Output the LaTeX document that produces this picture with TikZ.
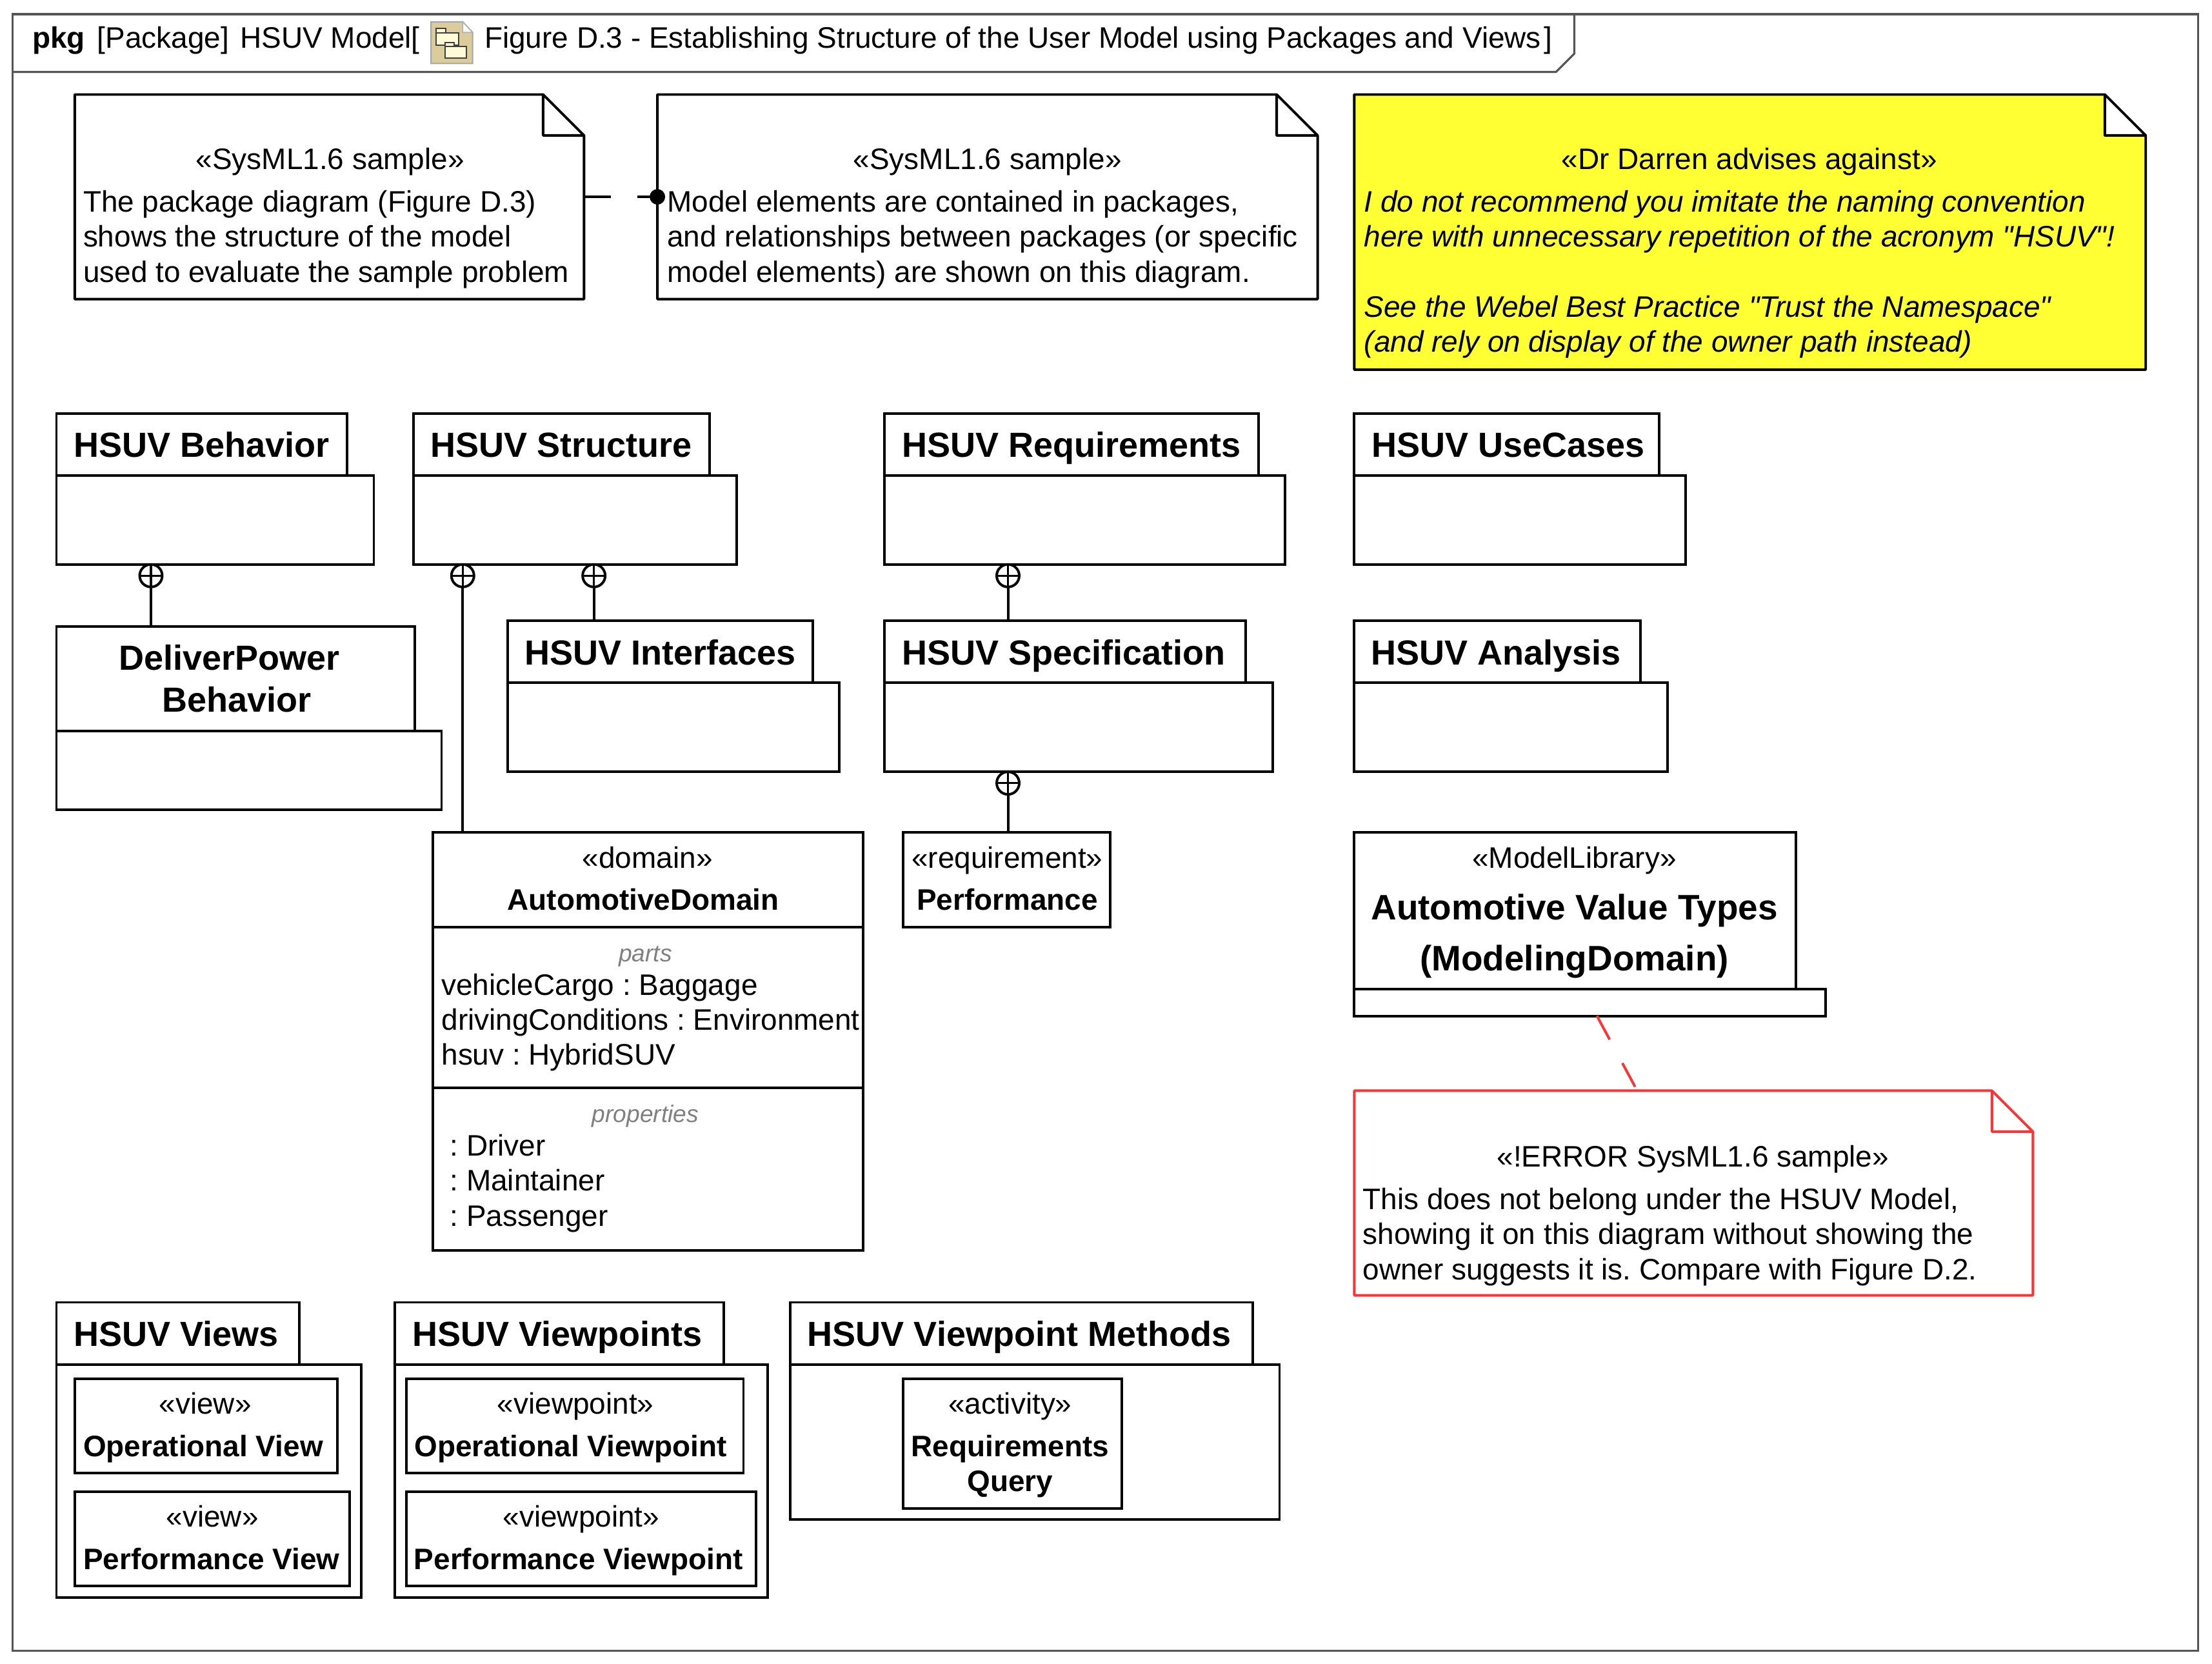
\documentclass[tikz,border=0pt]{standalone}
\usepackage{fontspec}
\setmainfont[Ligatures=TeXOff]{Liberation Sans}
\newcommand\fa{\fontsize{21}{24.85}\selectfont\frenchspacing}
\newcommand\fb{\fontsize{24.7}{30}\selectfont\bfseries}
\newcommand\tabstrut{\rule[-8pt]{0pt}{34pt}}
\definecolor{framegray}{HTML}{555555}
\definecolor{notered}{HTML}{FF3333}
\definecolor{noteyellow}{HTML}{FFFF33}
\definecolor{icontan}{RGB}{220,203,155}
\definecolor{iconcream}{RGB}{255,251,215}
\tikzset{
  boxn/.style={draw=black,line width=1.8pt,fill=white,anchor=north west,inner sep=0pt,outer sep=0pt,align=center,font=\fb},
  txtn/.style={inner sep=0pt,outer sep=0pt,font=\fa},
  cen/.style={txtn,anchor=north,align=center},
  lef/.style={txtn,anchor=north west,align=left},
  dep/.style={line width=1.8pt,dash pattern=on 19pt off 19pt},
  conn/.style={line width=1.8pt},
  nest/.style={circle,draw=black,line width=1.8pt,fill=white,minimum size=16pt,inner sep=0pt,outer sep=0pt,
    path picture={\draw[line width=1.5pt] (path picture bounding box.north)--(path picture bounding box.south)
      (path picture bounding box.west)--(path picture bounding box.east);}},
  note/.style={draw=none,anchor=north west,inner sep=0pt,outer sep=0pt}
}
% box: [options]{name}{x1}{y1}{x2}{y2}{text}
\newcommand\bx[7][]{\pgfmathsetmacro\bw{#5-#3}\pgfmathsetmacro\bh{#6-#4}%
  \node[boxn,#1,minimum width=\bw pt,minimum height=\bh pt] (#2) at (#3,#4) {#7};}
% note: [colours]{name}{x1}{y1}{x2}{y2}{fold x}{fold y}
\newcommand\nt[8][]{\pgfmathsetmacro\bw{#5-#3}\pgfmathsetmacro\bh{#6-#4}%
  \draw[line width=1.8pt,fill=white,line join=round,#1] (#3,#4)--(#7,#4)--(#5,#8)--(#5,#6)--(#3,#6)--cycle (#7,#4)--(#7,#8)--(#5,#8);
  \node[note,minimum width=\bw pt,minimum height=\bh pt] (#2) at (#3,#4) {};}
% package: {name}{x1}{y1}{tab x2}{tab y2}{body x2}{body y2}{label}
\newcommand\pk[8]{\bx{#1b}{#2}{#5}{#6}{#7}{}\bx{#1}{#2}{#3}{#4}{#5}{#8}}
\begin{document}
\begin{tikzpicture}[x=1pt,y=-1pt]
\useasboundingbox[fill=white] (0,0) rectangle (1568,1179.3);
% frame
\draw[framegray,line width=1.5pt] (9,10) rectangle (1558,1170);
\draw[framegray,line width=1.5pt] (9,51)--(1103,51)--(1116,38)--(1116,10);
\node[txtn,anchor=base west] (ttl1) at (23,34) {\bfseries pkg};
\node[txtn,anchor=base west] (ttl2) at (69,34) {[Package]\hspace{8pt}HSUV Model[};
\node[txtn,anchor=base west] (ttl3) at (343.5,34) {Figure D.3 - Establishing Structure of the User Model using Packages and Views\hspace{2pt}]};
% icon
\draw[draw=gray!70,line width=1pt,fill=icontan] (305.5,15.5)--(328,15.5)--(335,23)--(335,45)--(305.5,45)--cycle;
\draw[fill=white,draw=gray!60,line width=.8pt] (328,15.5)--(328,23)--(335,23)--cycle;
\draw[fill=iconcream,draw=black!75,line width=1pt] (309,23.5) rectangle (325,32) (309,20) rectangle (316,23.5);
\draw[fill=iconcream,draw=black!75,line width=1pt] (315.5,33) rectangle (330.5,41) (315.5,30) rectangle (322,33);
% notes
\nt{note1}{53}{67}{414}{212}{385}{96}
\nt{note2}{466}{67}{934}{212}{905}{96}
\nt[fill=noteyellow]{note3}{960}{67}{1521}{262}{1492}{96}
\nt[draw=notered]{note4}{960}{773}{1441}{918}{1412}{802}
\node[cen] (n1s) at (234,102.8) {\strut«SysML1.6 sample»};
\node[lef] (n1t) at (59,132.8) {\strut The package diagram (Figure D.3)\\shows the structure of the model\\used to evaluate the sample problem};
\node[cen] (n2s) at (700,102.8) {\strut«SysML1.6 sample»};
\node[lef] (n2t) at (473,132.8) {\strut Model elements are contained in packages,\\and relationships between packages (or specific\\model elements) are shown on this diagram.};
\node[cen] (n3s) at (1240,102.8) {\strut«Dr Darren advises against»};
\node[lef,font=\fa\itshape] (n3t) at (967,132.8) {\strut I do not recommend you imitate the naming convention\\here with unnecessary repetition of the acronym "HSUV"!\\\mbox{}\\See the Webel Best Practice "Trust the Namespace"\\(and rely on display of the owner path instead)};
\node[cen] (n4s) at (1200,809.8) {\strut«!ERROR SysML1.6 sample»};
\node[lef] (n4t) at (966,839.8) {\strut This does not belong under the HSUV Model,\\showing it on this diagram without showing the\\owner suggests it is. Compare with Figure D.2.};
% packages
\pk{behav}{40}{293}{246}{337}{265}{400}{\tabstrut HSUV Behavior}
\pk{struc}{293}{293}{503}{337}{522}{400}{\tabstrut HSUV Structure}
\pk{reqs}{627}{293}{892}{337}{911}{400}{\tabstrut HSUV Requirements}
\pk{ucs}{960}{293}{1176}{337}{1195}{400}{\tabstrut\hspace*{2pt}HSUV UseCases}
\pk{deliv}{40}{444}{294}{518}{313}{574}{DeliverPower\hspace*{9pt}\\\hspace*{2pt}Behavior}
\pk{intf}{360}{440}{576}{484}{595}{547}{\tabstrut HSUV Interfaces}
\pk{spec}{627}{440}{883}{484}{902}{547}{\tabstrut HSUV Specification\hspace*{2pt}}
\pk{anal}{960}{440}{1163}{484}{1182}{547}{\tabstrut HSUV Analysis\hspace*{2pt}}
\pk{mlib}{960}{590}{1273}{701}{1294}{720}{}
\node[cen] (mls) at (1116,597.8) {\strut«ModelLibrary»};
\node[cen,font=\fontsize{25.1}{36}\selectfont\bfseries] (mlt) at (1116,626.8) {\strut Automotive Value Types\\(ModelingDomain)};
% domain block
\bx{dom}{307}{590}{612}{886}{}
\draw[conn] (dom.west |- 0,657) -- (dom.east |- 0,657);
\draw[conn] (dom.west |- 0,771) -- (dom.east |- 0,771);
\node[cen] (doms) at (459,597.8) {\strut«domain»};
\node[cen,font=\fa\bfseries] (domt) at (456,627.8) {\strut AutomotiveDomain};
\node[cen,font=\fontsize{17}{20}\selectfont\itshape,text=gray] (parts) at (457.5,667.5) {\rule{0pt}{14pt}parts};
\node[lef] (partl) at (313,687.8) {\strut vehicleCargo : Baggage\\drivingConditions : Environment\\hsuv : HybridSUV};
\node[cen,font=\fontsize{17}{20}\selectfont\itshape,text=gray] (props) at (457.5,781.5) {\rule{0pt}{14pt}properties};
\node[lef] (propl) at (319,801.8) {\strut : Driver\\: Maintainer\\: Passenger};
% requirement
\bx{perf}{640}{590}{787}{657}{}
\node[cen] (perfs) at (714,597.8) {\strut«requirement»};
\node[cen,font=\fa\bfseries] (perft) at (714,627.8) {\strut Performance};
% views
\pk{views}{40}{923}{212}{967}{256}{1132}{\tabstrut HSUV Views\hspace*{2pt}}
\pk{vpts}{280}{923}{513}{967}{544}{1132}{\tabstrut HSUV Viewpoints\hspace*{3pt}}
\pk{meth}{560}{923}{888}{967}{907}{1077}{\tabstrut HSUV Viewpoint Methods\hspace*{3pt}}
\bx{opv}{53}{977}{239}{1044}{}
\node[cen] (opvs) at (145.5,984.8) {\strut«view»};
\node[cen,font=\fa\bfseries] (opvt) at (144,1014.8) {\strut Operational View};
\bx{pfv}{53}{1057}{248}{1124}{}
\node[cen] (pfvs) at (150.5,1064.8) {\strut«view»};
\node[cen,font=\fa\bfseries] (pfvt) at (150,1094.8) {\strut Performance View};
\bx{opp}{288}{977}{527}{1044}{}
\node[cen] (opps) at (408,984.8) {\strut«viewpoint»};
\node[cen,font=\fa\bfseries] (oppt) at (404.5,1014.8) {\strut Operational Viewpoint};
\bx{pfp}{288}{1057}{536}{1124}{}
\node[cen] (pfps) at (412,1064.8) {\strut«viewpoint»};
\node[cen,font=\fa\bfseries] (pfpt) at (410,1094.8) {\strut Performance Viewpoint};
\bx{rq}{640}{977}{795}{1069}{}
\node[cen] (rqs) at (716,984.8) {\strut«activity»};
\node[cen,font=\fa\bfseries] (rqt) at (716,1014.8) {\strut Requirements\\Query};
% nesting
\node[nest] (c1) at (107,408) {};
\node[nest] (c2) at (328,408) {};
\node[nest] (c3) at (421,408) {};
\node[nest] (c4) at (714.5,408) {};
\node[nest] (c5) at (714.5,555) {};
\draw[conn] (c1.south) -- (c1.south |- deliv.north);
\draw[conn] (c2.south) -- (c2.south |- dom.north);
\draw[conn] (c3.south) -- (c3.south |- intf.north);
\draw[conn] (c4.south) -- (c4.south |- spec.north);
\draw[conn] (c5.south) -- (c5.south |- perf.north);
% note anchors
\draw[dep] (note1.east) -- (note2.west);
\node[circle,fill=black,minimum size=11pt,inner sep=0pt] (dot) at (note2.west) {};
\coordinate (ra) at (1132,720);
\coordinate (rb) at (1160,772);
\draw[dep,notered] (ra) -- (rb);
\end{tikzpicture}
\end{document}
